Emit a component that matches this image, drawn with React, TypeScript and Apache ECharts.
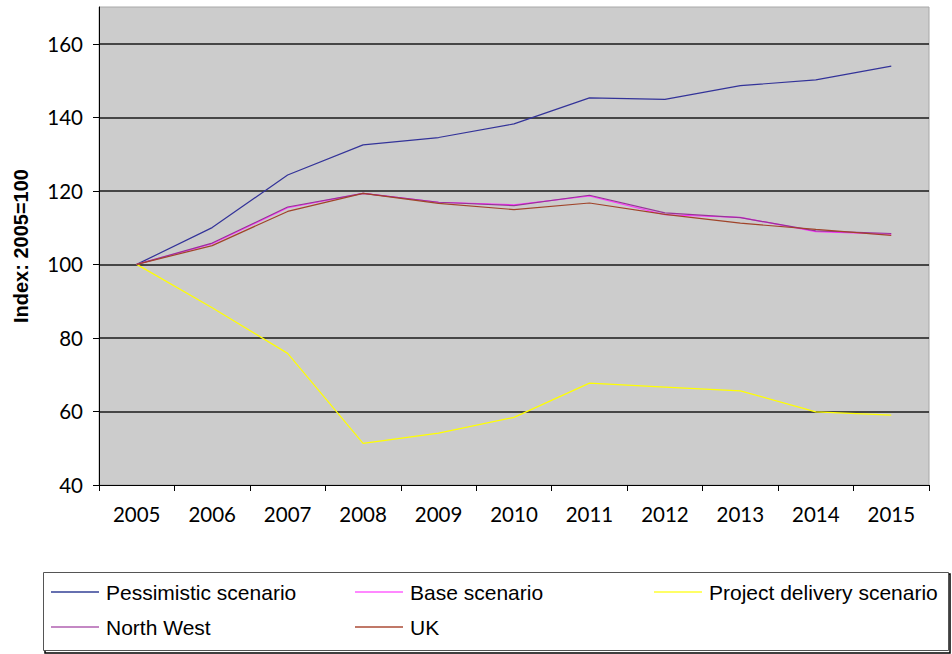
import React, { useEffect, useRef } from "react";
import * as echarts from "echarts";

const years = ["2005", "2006", "2007", "2008", "2009", "2010", "2011", "2012", "2013", "2014", "2015"];

const pessimistic = [100, 110.0, 124.3, 132.5, 134.5, 138.2, 145.3, 144.9, 148.6, 150.2, 153.9];
const baseScenario = [100, 105.6, 115.4, 119.3, 116.9, 116.2, 118.6, 113.5, 112.8, 108.9, 108.2];
const projectDelivery = [100, 88.2, 75.8, 51.3, 54.1, 58.4, 67.7, 66.6, 65.6, 59.9, 59.0];
const northWest = [100, 105.8, 115.6, 119.3, 116.9, 116.0, 118.8, 114.0, 112.7, 109.1, 108.4];
const uk = [100, 105.1, 114.4, 119.3, 116.6, 114.9, 116.7, 113.6, 111.2, 109.5, 107.9];

const seriesNames = [
  "Pessimistic scenario",
  "Base scenario",
  "Project delivery scenario",
  "North West",
  "UK",
];
const seriesColors = ["#333399", "#ff33ff", "#ffff00", "#993399", "#a0442a"];
const legendColors = ["#6670b0", "#ff88ff", "#ffff66", "#c488c4", "#c07868"];
const seriesData = [pessimistic, baseScenario, projectDelivery, northWest, uk];

// legend slots: [left, top] for each series, three columns, two rows
const legendSlots: [number, number][] = [
  [51, 580],
  [355, 580],
  [654, 580],
  [51, 615],
  [355, 615],
];

export default function App() {
  const ref = useRef<HTMLDivElement>(null);

  useEffect(() => {
    if (!ref.current) return;
    const chart = echarts.init(ref.current, undefined, { renderer: "svg" });

    const legendFont = "'Liberation Sans', Arial, sans-serif";
    const tickFont = "Lato, 'Open Sans', sans-serif";

    chart.setOption({
      animation: false,
      backgroundColor: "#ffffff",
      grid: {
        left: 99,
        right: 23,
        top: 7,
        bottom: 169,
        show: true,
        backgroundColor: "#cccccc",
        borderColor: "#a8a8a8",
        borderWidth: 1,
      },
      xAxis: {
        type: "category",
        data: years,
        boundaryGap: true,
        axisLine: { show: true, lineStyle: { color: "#000", width: 1 } },
        axisTick: { show: true, length: 6, inside: false, lineStyle: { color: "#000" } },
        axisLabel: {
          margin: 18,
          fontFamily: tickFont,
          fontSize: 20.5,
          color: "#000",
        },
      },
      yAxis: {
        type: "value",
        min: 40,
        max: 170,
        interval: 20,
        name: "Index: 2005=100",
        nameLocation: "middle",
        nameGap: 68,
        nameRotate: 90,
        nameTextStyle: {
          fontFamily: legendFont,
          fontWeight: "bold",
          fontSize: 20,
          color: "#000",
        },
        axisLine: { show: true, lineStyle: { color: "#000", width: 1 } },
        axisTick: { show: true, length: 6, lineStyle: { color: "#000" } },
        axisLabel: {
          margin: 16,
          fontFamily: tickFont,
          fontSize: 20.5,
          color: "#000",
          showMaxLabel: false,
        },
        splitLine: {
          show: true,
          showMaxLine: false,
          showMinLine: false,
          lineStyle: { color: "#1a1a1a", width: 1.5 },
        },
      },
      legend: seriesNames.map((name, i) => ({
        data: [{ name, itemStyle: { color: legendColors[i] } }],
        left: legendSlots[i][0],
        top: legendSlots[i][1],
        orient: "horizontal",
        icon: "rect",
        itemWidth: 48,
        itemHeight: 2,
        padding: 0,
        selectedMode: false,
        textStyle: {
          fontFamily: legendFont,
          fontSize: 21,
          color: "#000",
          lineHeight: 24,
          padding: [0, 0, 0, 2],
        },
      })),
      series: seriesNames.map((name, i) => ({
        name,
        type: "line",
        data: seriesData[i],
        symbol: "none",
        showSymbol: false,
        lineStyle: { color: seriesColors[i], width: 1.2 },
        itemStyle: { color: seriesColors[i] },
        z: 2 + i,
      })),
      graphic: [
        {
          type: "rect",
          shape: { x: 45, y: 574, width: 905, height: 79 },
          style: { fill: "none", stroke: "#000", lineWidth: 1.5 },
          z: 0,
        },
        {
          type: "rect",
          shape: { x: 43.5, y: 572.5, width: 905, height: 78 },
          style: { fill: "#ffffff", stroke: "#555", lineWidth: 1 },
          z: 1,
        },
      ],
    });

    return () => chart.dispose();
  }, []);

  return (
    <div
      ref={ref}
      style={{ position: "fixed", left: 0, top: 0, width: 952, height: 654 }}
    />
  );
}
